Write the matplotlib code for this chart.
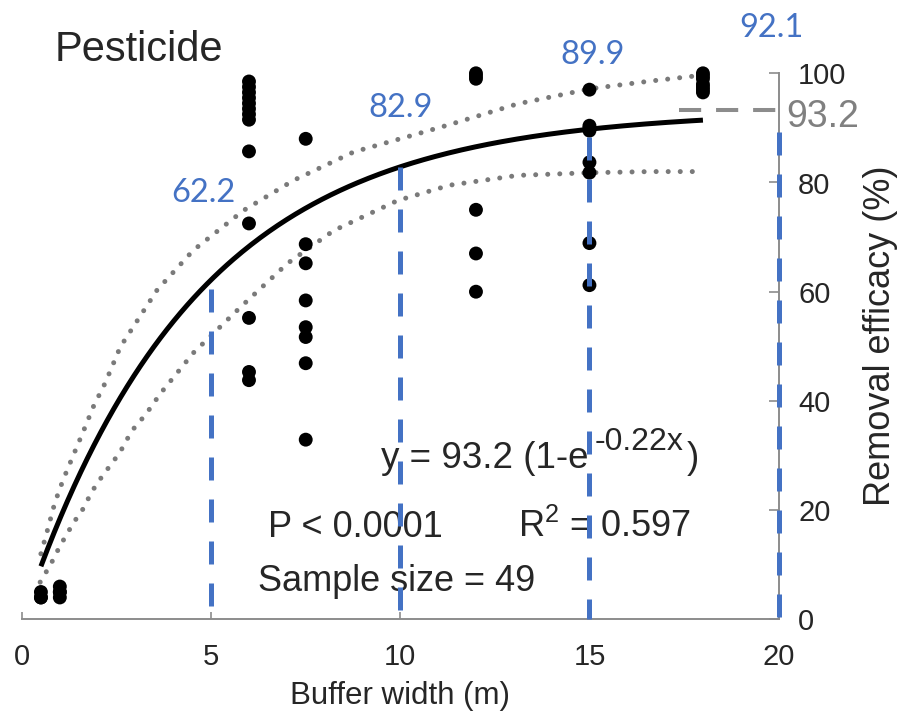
import numpy as np
import matplotlib
matplotlib.use("Agg")
import matplotlib.pyplot as plt

# ---------------- data ----------------
x_pts = [0.5, 0.5, 0.5, 1.0, 1.0, 1.0, 1.0,
         6, 6, 6, 6, 6, 6, 6, 6, 6, 6, 6, 6, 6,
         7.5, 7.5, 7.5, 7.5, 7.5, 7.5, 7.5, 7.5,
         12, 12, 12, 12, 12, 12,
         15, 15, 15, 15, 15, 15, 15, 15,
         18, 18, 18, 18, 18, 18, 18]
y_pts = [4, 5, 4, 4, 5, 6, 5,
         98.5, 97.5, 96.5, 95.5, 94.5, 93.5, 92.5, 91.5, 85.7, 72.5, 55.2, 45.3, 43.8,
         88, 68.7, 65.2, 58.4, 53.5, 51.7, 46.9, 32.9,
         100, 99.5, 99, 75, 67, 60,
         97, 90.4, 89.5, 83.7, 81.8, 68.9, 61.2, 90,
         100, 99, 98, 97, 96.5, 97.5, 99.5]

fit_a = 93.2
fit_k = 0.22
fit_xmin, fit_xmax = 0.5, 18.0

upper_x = [0.5, 0.7, 0.87, 1.09, 1.36, 1.62, 1.89, 2.2, 2.6, 3.57, 4.53, 5.86,
           7.18, 8.77, 10.3, 11.3, 13.1, 15.05, 16.64, 18.04]
upper_y = [12.0, 17.0, 21.4, 25.6, 30.1, 34.4, 39.0, 43.3, 49.9, 60.3, 67.6, 74.9,
           80.4, 85.6, 88.6, 90.6, 94.4, 97.2, 98.6, 99.7]
lower_x = [0.48, 0.65, 0.83, 1.0, 1.18, 1.36, 1.58, 1.76, 1.93, 2.15, 2.38, 2.6,
           2.77, 2.99, 3.26, 3.48, 3.7, 4.53, 5.78, 7.02, 8.24, 9.93, 11.3, 13.1,
           15.05, 16.64, 18.0]
lower_y = [6.8, 8.8, 11.0, 13.4, 15.5, 17.7, 19.8, 22.2, 24.3, 26.5, 28.6, 30.7,
           32.9, 35.3, 37.4, 39.6, 41.7, 48.8, 57.2, 65.2, 71.2, 76.7, 79.5, 81.3,
           81.8, 82.0, 82.0]

marker_x = [5, 10, 15, 20]
marker_top = [60.5, 82.8, 88.3, 89.2]
marker_labels = ["62.2", "82.9", "89.9", "92.1"]
label_pos_x = [4.8, 10.0, 15.08, 19.8]
label_pos_y = [78.0, 93.7, 103.4, 108.3]

asym_value = 93.2
asym_x = [17.36, 20.0]

x_ticks = [0, 5, 10, 15, 20]
y_ticks = [0, 20, 40, 60, 80, 100]

# ---------------- figure ----------------
plt.rcParams['font.family'] = ['Liberation Sans', 'DejaVu Sans']
fig = plt.figure(figsize=(9.03, 7.13), dpi=100)
ax = fig.add_axes([22/903, 1-619.3/713, 756.6/903, 546/713])
ax.set_xlim(0, 20)
ax.set_ylim(0, 100)

axis_gray = '#8c8c8c'
txt = '#262626'
blue = '#4472C4'

for s in ['left', 'top']:
    ax.spines[s].set_visible(False)
for s in ['right', 'bottom']:
    ax.spines[s].set_color(axis_gray)
    ax.spines[s].set_linewidth(1.4)

ax.yaxis.tick_right()
ax.set_xticks(x_ticks)
ax.set_yticks(y_ticks)
ax.tick_params(axis='x', direction='in', length=5, width=1.2, color=axis_gray,
               labelsize=21, labelcolor=txt, pad=17)
ax.tick_params(axis='y', direction='in', length=7, width=1.2, color=axis_gray,
               labelsize=21, labelcolor=txt, pad=14, right=True, left=False)
for lab in ax.get_yticklabels():
    lab.set_horizontalalignment('left')

# confidence bands
band_style = dict(color='#7a7a7a', lw=3.6, linestyle=(0, (0.01, 2.4)),
                  dash_capstyle='round', zorder=2, clip_on=False)
ax.plot(upper_x, upper_y, **band_style)
ax.plot(lower_x, lower_y, **band_style)

# fitted curve
xf = np.linspace(fit_xmin, fit_xmax, 300)
ax.plot(xf, fit_a * (1 - np.exp(-fit_k * xf)), color='black', lw=3.6, zorder=3,
        solid_capstyle='butt')

# scatter points
ax.scatter(x_pts, y_pts, s=100, color='black', edgecolors='none', zorder=4, clip_on=False)

# asymptote dashed line
ax.plot(asym_x, [asym_value, asym_value], color='#8c8c8c', lw=2.9,
        linestyle=(0, (5.5, 3.7)), zorder=2, clip_on=False)
ax.text(20.2, 92.0, f"{asym_value}", color='#808080', fontsize=27,
        ha='left', va='center', clip_on=False)

# blue markers
for xv, top, lab, lx, ly in zip(marker_x, marker_top, marker_labels, label_pos_x, label_pos_y):
    ax.plot([xv, xv], [top, 0], color=blue, lw=3.6, linestyle=(0, (4.6, 3.8)),
            zorder=5, clip_on=False)
    ax.text(lx, ly, lab, color=blue, fontsize=23.5, family=['Lato', 'DejaVu Sans'],
            ha='center', va='center', clip_on=False)

# annotations
ax.text(0.87, 102.3, "Pesticide", fontsize=30, color=txt, ha='left', va='baseline',
        clip_on=False)
ax.text(9.49, 27.8, "y = 93.2 (1-e", fontsize=26.5, color=txt, ha='left', va='baseline')
ax.text(15.13, 31.0, "-0.22x", fontsize=23, color=txt, ha='left', va='baseline')
ax.text(17.57, 27.8, ")", fontsize=26.5, color=txt, ha='left', va='baseline')
ax.text(6.49, 15.0, "P < 0.0001", fontsize=26, color=txt, ha='left', va='baseline')
ax.text(13.12, 15.0, r"R$^{\mathregular{2}}$ = 0.597", fontsize=26, color=txt,
        ha='left', va='baseline')
ax.text(6.25, 5.1, "Sample size = 49", fontsize=26, color=txt, ha='left', va='baseline')

# axis labels
fig.text((22 + 0.5 * 756.6) / 903, 2 / 713, "Buffer width (m)", fontsize=22.5,
         color=txt, ha='center', va='bottom')
ax.text(1.135, 0.52, "Removal efficacy (%)", transform=ax.transAxes, fontsize=26,
        color=txt, rotation=90, ha='center', va='center', clip_on=False)

fig.savefig("out.png", dpi=100)
